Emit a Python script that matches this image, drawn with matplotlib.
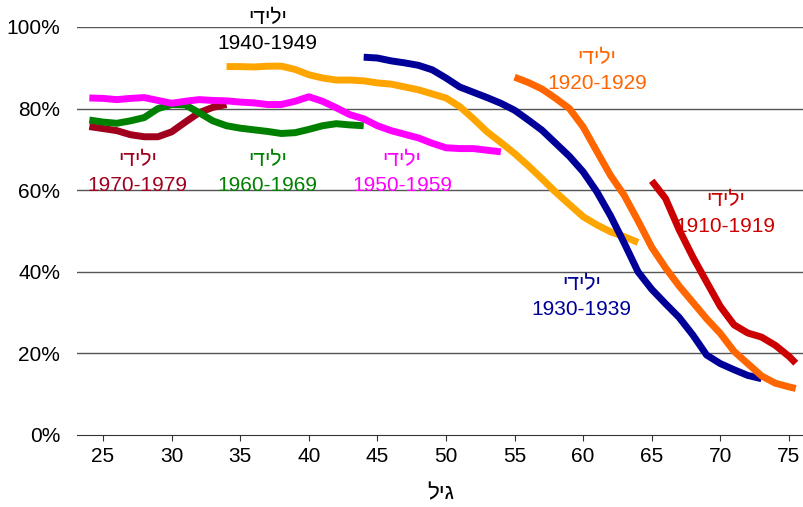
import matplotlib
matplotlib.use("Agg")
import matplotlib.pyplot as plt

plt.rcParams['font.family'] = ['Liberation Sans', 'DejaVu Sans']

# share of people by age, per birth cohort (percent)
ages_1970 = [24, 25, 26, 27, 28, 29, 30, 31, 32, 33, 34]
vals_1970 = [75.6, 75.1, 74.6, 73.6, 73.1, 73.1, 74.3, 76.7, 79.0, 80.3, 81.0]

ages_1960 = list(range(24, 45))
vals_1960 = [77.2, 76.7, 76.4, 77.0, 77.8, 80.0, 81.0, 80.9, 79.0, 77.0, 75.8,
             75.2, 74.8, 74.4, 73.9, 74.1, 74.9, 75.8, 76.3, 76.0, 75.8]

ages_1950 = list(range(24, 55))
vals_1950 = [82.6, 82.5, 82.2, 82.5, 82.7, 82.0, 81.3, 81.8, 82.2, 82.0, 81.9,
             81.6, 81.4, 81.0, 81.0, 81.8, 82.9, 81.8, 80.2, 78.5, 77.5,
             75.8, 74.6, 73.7, 72.8, 71.5, 70.4, 70.2, 70.2, 69.8, 69.4]

ages_1940 = list(range(34, 65))
vals_1940 = [90.3, 90.3, 90.2, 90.4, 90.4, 89.6, 88.3, 87.5, 87.0, 87.0, 86.8,
             86.3, 86.0, 85.3, 84.6, 83.6, 82.6, 80.5, 77.5, 74.3, 71.7,
             69.0, 66.0, 62.8, 59.5, 56.5, 53.5, 51.5, 49.8, 48.6, 47.2]

ages_1930 = list(range(44, 74))
vals_1930 = [92.6, 92.4, 91.7, 91.2, 90.6, 89.5, 87.5, 85.3, 84.0, 82.7, 81.3,
             79.6, 77.2, 74.7, 71.5, 68.3, 64.5, 59.6, 53.7, 47.0, 40.0,
             35.7, 32.2, 28.8, 24.5, 19.6, 17.5, 16.0, 14.6, 13.8]

ages_1920 = list(range(55, 76)) + [75.5]
vals_1920 = [87.7, 86.4, 84.8, 82.5, 80.0, 75.5, 69.5, 63.6, 58.7, 52.5, 46.0,
             41.0, 36.5, 32.5, 28.5, 24.9, 20.5, 17.5, 14.5, 12.7, 11.8, 11.4]

ages_1910 = list(range(65, 76)) + [75.5]
vals_1910 = [62.3, 58.0, 50.3, 43.6, 37.5, 31.5, 27.0, 25.0, 24.0, 22.0, 19.3, 17.6]

# name, ages, values, colour, label centre (age, percent of the Hebrew line)
cohorts = [
    ('1970-1979', ages_1970, vals_1970, '#A0001E', (27.5, 67.4)),
    ('1960-1969', ages_1960, vals_1960, '#008000', (37.0, 67.4)),
    ('1950-1959', ages_1950, vals_1950, '#FF00FF', (46.8, 67.4)),
    ('1940-1949', ages_1940, vals_1940, '#FFA500', (37.0, 102.2)),
    ('1930-1939', ages_1930, vals_1930, '#000099', (59.9, 37.0)),
    ('1920-1929', ages_1920, vals_1920, '#FF6600', (61.0, 92.4)),
    ('1910-1919', ages_1910, vals_1910, '#CC0000', (70.4, 57.5)),
]
label_colors = {'1940-1949': 'black'}

born = 'ילידי'[::-1]   # reversed: matplotlib draws left-to-right
age_label = 'גיל'[::-1]

fig = plt.figure(figsize=(8.04, 5.07), dpi=100)
ax = fig.add_axes([77 / 804, 1 - 435 / 507, 1 - 77 / 804, (435 - 27) / 507])

for y in [20, 40, 60, 80, 100]:
    ax.axhline(y, color='#555555', lw=1, zorder=1)

for name, ages, vals, color, _ in cohorts:
    ax.plot(ages, vals, color=color, lw=5, solid_capstyle='butt', zorder=3)

for name, ages, vals, color, (x, y) in cohorts:
    c = label_colors.get(name, color)
    ax.text(x, y, born, color=c, fontsize=15, ha='center', va='center')
    ax.text(x, y - 6.3, name, color=c, fontsize=15, ha='center', va='center')

ax.set_xlim(23.1, 76.1)
ax.set_ylim(0, 100)
ax.set_xticks(range(25, 80, 5))
ax.set_yticks(range(0, 101, 20))
ax.set_yticklabels([f'{v}%' for v in range(0, 101, 20)])
ax.tick_params(axis='x', length=4, labelsize=15, color='#333333', pad=5)
ax.tick_params(axis='y', length=0, labelsize=15, pad=12)
for s in ['top', 'right', 'left']:
    ax.spines[s].set_visible(False)
ax.spines['bottom'].set_color('#333333')
ax.set_xlabel(age_label, fontsize=16, labelpad=12)

fig.savefig('out.png', dpi=100)
